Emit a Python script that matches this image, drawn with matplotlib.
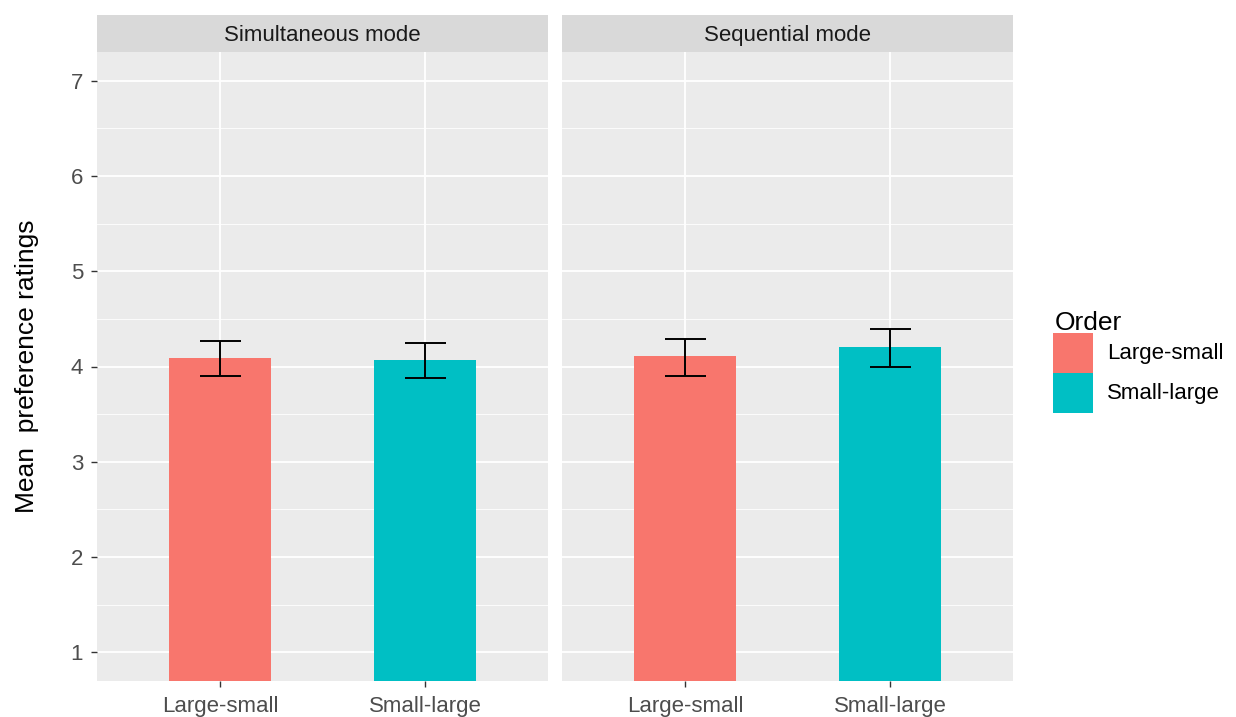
import matplotlib
matplotlib.use("Agg")
import matplotlib.pyplot as plt
from matplotlib.patches import Rectangle
import numpy as np

# Data
modes = ["Simultaneous mode", "Sequential mode"]
orders = ["Large-small", "Small-large"]
means = {
    "Simultaneous mode": [4.09, 4.07],
    "Sequential mode": [4.11, 4.20],
}
lower = {
    "Simultaneous mode": [3.90, 3.88],
    "Sequential mode": [3.90, 3.99],
}
upper = {
    "Simultaneous mode": [4.27, 4.25],
    "Sequential mode": [4.29, 4.39],
}
colors = ["#F8766D", "#00BFC4"]
yticks = [1, 2, 3, 4, 5, 6, 7]

plt.rcParams["font.family"] = ["Liberation Sans", "DejaVu Sans"]

W, H = 1236, 717
fig = plt.figure(figsize=(W / 100, H / 100), dpi=100)
fig.patch.set_facecolor("white")

def px_axes(x0, y0, x1, y1):
    return fig.add_axes([x0 / W, 1 - y1 / H, (x1 - x0) / W, (y1 - y0) / H])

panel_x = [(97, 548), (562, 1013)]
panel_top, panel_bot = 52, 681
strip_top = 15
TXT = 16
TITLE = 19

x = np.arange(1, len(orders) + 1)
for i, mode in enumerate(modes):
    x0, x1 = panel_x[i]
    ax = px_axes(x0, panel_top, x1, panel_bot)
    ax.set_facecolor("#EBEBEB")
    ax.set_xlim(0.4, 2.6)
    ax.set_ylim(0.7, 7.3)
    # grid
    for yv in np.arange(1.5, 7.0, 1.0):
        ax.axhline(yv, color="white", lw=0.6, zorder=0)
    for yv in yticks:
        ax.axhline(yv, color="white", lw=1.3, zorder=0)
    for xv in x:
        ax.axvline(xv, color="white", lw=1.3, zorder=0)
    m = np.array(means[mode])
    lo = np.array(lower[mode])
    hi = np.array(upper[mode])
    ax.bar(x, m, width=0.5, color=colors, zorder=2)
    ax.errorbar(x, m, yerr=[m - lo, hi - m], fmt="none", ecolor="black",
                elinewidth=1.4, capsize=0, zorder=3)
    for xi, l, h in zip(x, lo, hi):
        ax.hlines([l, h], xi - 0.1, xi + 0.1, color="black", lw=1.4, zorder=3)
    for s in ax.spines.values():
        s.set_visible(False)
    ax.set_xticks(x)
    ax.set_xticklabels(orders, fontsize=TXT, color="#4D4D4D")
    ax.tick_params(axis="x", length=4, width=1, color="#333333", pad=7)
    if i == 0:
        ax.set_yticks(yticks)
        ax.set_yticklabels([str(v) for v in yticks], fontsize=TXT, color="#4D4D4D")
        ax.tick_params(axis="y", length=4, width=1, color="#333333", pad=6)
    else:
        ax.set_yticks([])
    # strip
    sx = px_axes(x0, strip_top, x1, panel_top)
    sx.set_facecolor("#D9D9D9")
    sx.set_xticks([])
    sx.set_yticks([])
    for s in sx.spines.values():
        s.set_visible(False)
    sx.text(0.5, 0.45, mode, ha="center", va="center", fontsize=TXT,
            color="#1A1A1A", transform=sx.transAxes)

# y-axis title
fig.text(27 / W, 1 - 366 / H, "Mean  preference ratings", rotation=90,
         fontsize=TITLE, ha="center", va="center", color="black")

# legend
fig.text(1055 / W, 1 - 323 / H, "Order", fontsize=TITLE, ha="left", va="center", color="black")
key_y = [333, 373]
for c, lab, ky in zip(colors, orders, key_y):
    fig.patches.append(Rectangle((1053 / W, 1 - (ky + 40) / H), 40 / W, 40 / H,
                                 transform=fig.transFigure, facecolor=c,
                                 edgecolor="none"))
    fig.text(1107 / W, 1 - (ky + 20) / H, lab, fontsize=TXT, ha="left",
             va="center", color="black")

fig.savefig("out.png", dpi=100)
